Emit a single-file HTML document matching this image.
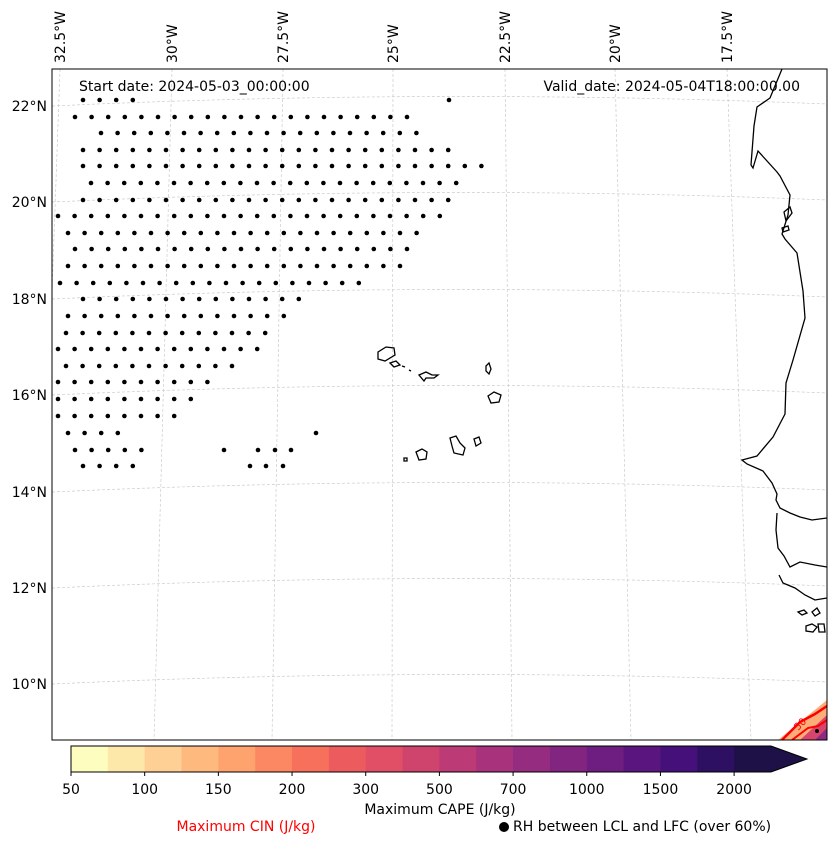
<!DOCTYPE html>
<html><head><meta charset="utf-8">
<style>
html,body{margin:0;padding:0;background:#fff;}
body{width:837px;height:845px;overflow:hidden;font-family:"DejaVu Sans","Liberation Sans",sans-serif;}
svg text{font-family:"DejaVu Sans","Liberation Sans",sans-serif;}
</style></head>
<body>
<svg id="chart" width="837" height="845" viewBox="0 0 837 845" xmlns="http://www.w3.org/2000/svg">
  <defs><clipPath id="plotclip"><rect x="52" y="69" width="775" height="671"/></clipPath></defs>
  <g id="grid" clip-path="url(#plotclip)"></g>
  <g id="coast" clip-path="url(#plotclip)" fill="none" stroke="#000" stroke-width="1.3">
    <path d="M782,69 L770,98 L757,107 L754,126 L751,165 L753,168 L758,151 L777,172 L780,176 L790,195 L788,215 L782,234 L785,239 L797,253 L803,291 L805,318 L793,360 L786,383 L785,414 L773,437 L757,456 L742,460 L747,464 L763,471 L772,483 L777,494 L776,500 L780,508 L790,513 L800,517 L812,520 L827,518"/>
    <path d="M777,513 L776,530 L778,548 L784,556 L790,567 L800,562 L815,565 L827,567"/>
    <path d="M779,575 L783,583 L795,588 L805,595 L815,600 L827,598"/>
    <path d="M798,612 l6,-2 l3,3 l-5,2z M812,612 l5,-4 l3,5 l-5,3z M806,626 l6,-2 l5,3 l-4,5 l-7,-1z M818,624 l6,0 l1,8 l-6,0z"/>
    <path d="M784,212 l6,-5 l2,6 l-6,8z M782,228 l6,-2 l1,4 l-6,2z"/>
    <path d="M378,352 l8,-5 l8,1 l1,7 l-10,6 l-7,-2z"/>
    <path d="M390,363 l6,-2 l4,4 l-6,2z"/>
    <path d="M419,375 l7,-3 l6,3 l6,0 l-4,3 l-8,0 l-2,3z M402,366 l3,1 M409,370 l2,1"/>
    <path d="M486,366 l3,-3 l2,6 l-2,5 l-3,-3z"/>
    <path d="M488,396 l6,-4 l7,3 l-2,7 l-8,1z"/>
    <path d="M450,438 l6,-2 l4,7 l5,5 l-2,7 l-9,-2 l-2,-7z"/>
    <path d="M474,439 l5,-2 l2,6 l-5,3z"/>
    <path d="M416,452 l6,-3 l5,3 l-1,7 l-7,1z"/>
    <path d="M404,458 l3,0 l0,3 l-3,0z"/>
  </g>
  <g id="cin" clip-path="url(#plotclip)">
    <path d="M778,740 L827,700 L827,740z" fill="#fcae7a"/>
    <path d="M800,740 L827,715 L827,740z" fill="#d8456c"/>
    <path d="M815,740 L827,728 L827,740z" fill="#8c2981"/>
    <path d="M782,740 L800,722 L815,714 L827,706" fill="none" stroke="#f00" stroke-width="2.5"/>
    <path d="M792,740 L808,728 L818,726 L827,720" fill="none" stroke="#f00" stroke-width="2"/>
    <text x="798" y="731" font-size="10" fill="#f00" transform="rotate(-45 798 731)">50</text>
    <circle cx="817" cy="731" r="2" fill="#000"/>
  </g>
  <g id="dots" clip-path="url(#plotclip)"></g>
  <rect x="52" y="69" width="775" height="671" fill="none" stroke="#000" stroke-width="1"/>
  <text x="79" y="91" font-size="14">Start date: 2024-05-03_00:00:00</text>
  <text x="800" y="91" font-size="14" text-anchor="end">Valid_date: 2024-05-04T18:00:00.00</text>
  <g id="lonlabels"></g>
  <g id="latlabels"></g>
  <g id="cbar"></g>
  <text x="440" y="814" font-size="14" text-anchor="middle">Maximum CAPE (J/kg)</text>
  <text x="246" y="831" font-size="14" fill="#f00" text-anchor="middle">Maximum CIN (J/kg)</text>
  <circle cx="504" cy="827" r="5" fill="#000"/>
  <text x="513" y="831" font-size="14">RH between LCL and LFC (over 60%)</text>
</svg>
<script>
const NS='http://www.w3.org/2000/svg';
const lonLabels=['32.5°W','30°W','27.5°W','25°W','22.5°W','20°W','17.5°W'];
const lonTop=[60,172,283,393,505,615,727];
const lonBottom=[36,154,272,392,512,631,751];
const latLabels=['22°N','20°N','18°N','16°N','14°N','12°N','10°N'];
const latLeft=[106,202,299,395,492,588,684];
const cbarTicks=['50','100','150','200','300','500','700','1000','1500','2000'];
const cbarColors=['#fcfdbf','#fde7a9','#fed095','#feb97f','#fea26e','#fb8862','#f6705c','#ec5c5f','#e04f65','#cf446d','#bc3b76','#a9327c','#952c80','#822581','#6e1e81','#5a167e','#45107a','#2e1062','#1e1147'];
const dotRowY=[100,117,133,150,166,183,200,216,233,249,266,283,299,316,333,349,366,382,399,416,433,450,466];
const dotRowStart=[83,75,101,83,83,91,83,58,68,75,68,60,83,68,66,58,66,58,58,58,68,75,83];
const dotRowEnd=[133,417,424,448,483,470,448,440,432,416,415,358,300,290,266,258,234,209,200,188,133,141,133];
const extraDotX=[449,316,224,258,275,291,250,266,283];
const extraDotY=[100,433,450,450,450,450,466,466,466];

const grid=document.getElementById('grid');
lonTop.forEach((t,i)=>{const l=document.createElementNS(NS,'line');
l.setAttribute('x1',t);l.setAttribute('y1',69);l.setAttribute('x2',lonBottom[i]);l.setAttribute('y2',740);
l.setAttribute('stroke','#ccc');l.setAttribute('stroke-width','0.7');l.setAttribute('stroke-dasharray','3,2');


grid.appendChild(l);});
latLeft.forEach(y=>{const p=document.createElementNS(NS,'path');
p.setAttribute('d',`M52,${y} Q440,${y-18} 827,${y-2}`);
p.setAttribute('fill','none');p.setAttribute('stroke','#ccc');p.setAttribute('stroke-width','0.7');p.setAttribute('stroke-dasharray','3,2');


grid.appendChild(p);});

const lonG=document.getElementById('lonlabels');
lonLabels.forEach((s,i)=>{const t=document.createElementNS(NS,'text');const x=lonTop[i]+5,y=63;
t.setAttribute('x',x);t.setAttribute('y',y);t.setAttribute('font-size','14');
t.setAttribute('transform',`rotate(-90 ${x} ${y})`);t.textContent=s;


lonG.appendChild(t);});
const latG=document.getElementById('latlabels');
latLabels.forEach((s,i)=>{const t=document.createElementNS(NS,'text');
t.setAttribute('x',47);t.setAttribute('y',latLeft[i]+5);t.setAttribute('font-size','14');t.setAttribute('text-anchor','end');t.textContent=s;


latG.appendChild(t);});

const cb=document.getElementById('cbar');
const cx0=71,cw=36.84,cy=746,ch=26;
cbarColors.forEach((c,i)=>{const r=document.createElementNS(NS,'rect');
r.setAttribute('x',cx0+i*cw);r.setAttribute('y',cy);r.setAttribute('width',cw+0.5);r.setAttribute('height',ch);r.setAttribute('fill',c);


cb.appendChild(r);});
const tri=document.createElementNS(NS,'path');
const ex=cx0+cbarColors.length*cw;
tri.setAttribute('d',`M${ex},${cy} L${ex+36},${cy+ch/2} L${ex},${cy+ch}z`);tri.setAttribute('fill','#1e1147');


cb.appendChild(tri);
const ol=document.createElementNS(NS,'path');
ol.setAttribute('d',`M${cx0},${cy} L${ex},${cy} L${ex+36},${cy+ch/2} L${ex},${cy+ch} L${cx0},${cy+ch}z`);
ol.setAttribute('fill','none');ol.setAttribute('stroke','#000');ol.setAttribute('stroke-width','1');


cb.appendChild(ol);
cbarTicks.forEach((s,i)=>{const x=cx0+i*2*cw;
const l=document.createElementNS(NS,'line');l.setAttribute('x1',x);l.setAttribute('x2',x);l.setAttribute('y1',cy+ch);l.setAttribute('y2',cy+ch+4);l.setAttribute('stroke','#000');


cb.appendChild(l);
const t=document.createElementNS(NS,'text');t.setAttribute('x',x);t.setAttribute('y',794);t.setAttribute('font-size','14');t.setAttribute('text-anchor','middle');t.textContent=s;


cb.appendChild(t);});

const dg=document.getElementById('dots');
function dot(x,y){const c=document.createElementNS(NS,'circle');c.setAttribute('cx',x);c.setAttribute('cy',y);c.setAttribute('r','2.3');c.setAttribute('fill','#000');


dg.appendChild(c);}
const sp=16.6;
dotRowY.forEach((y,i)=>{for(let x=dotRowStart[i];x<=dotRowEnd[i]+1;x+=sp)dot(x,y);});
extraDotX.forEach((x,i)=>dot(x,extraDotY[i]));
</script>
</body></html>
